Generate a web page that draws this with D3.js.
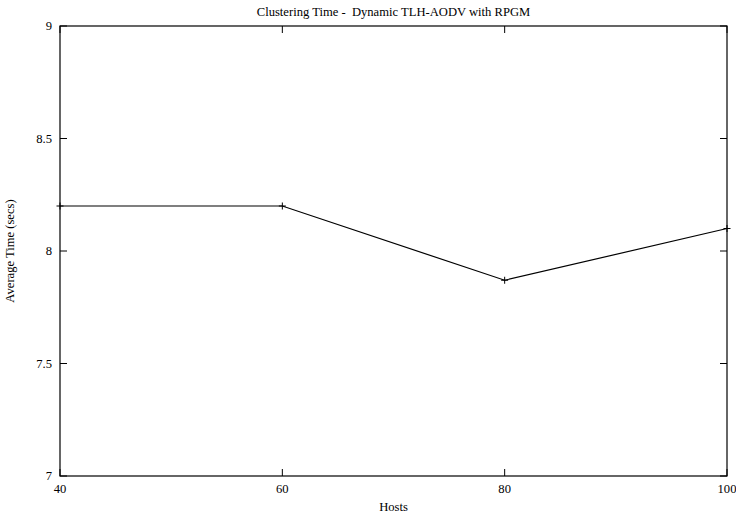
<!DOCTYPE html>
<html>
<head>
<meta charset="utf-8">
<script src="https://cdn.jsdelivr.net/npm/d3@7"></script>
<style>
    body { margin: 0; background: #fff; }
    text { font-family: "Liberation Serif", "Times New Roman", serif; font-size: 12.6px; fill: #000; white-space: pre; }
</style>
</head>
<body>
<div id="chart"></div>
<script>
var chartTitle = "Clustering Time -  Dynamic TLH-AODV with RPGM";
var xLabel = "Hosts";
var yLabel = "Average Time (secs)";
var hosts = [40, 60, 80, 100];
var avgTime = [8.2, 8.2, 7.87, 8.1];
var xTicks = [40, 60, 80, 100];
var yTicks = [7, 7.5, 8, 8.5, 9];

var width = 736, height = 517;
var margin = { top: 26, right: 9, bottom: 41, left: 60 };

var svg = d3.select("#chart").append("svg")
    .attr("width", width)
    .attr("height", height);

var x = d3.scaleLinear().domain([40, 100]).range([margin.left, width - margin.right]);
var y = d3.scaleLinear().domain([7, 9]).range([height - margin.bottom, margin.top]);

var tickLen = 7;

// frame
svg.append("rect")
    .attr("x", x(40)).attr("y", y(9))
    .attr("width", x(100) - x(40)).attr("height", y(7) - y(9))
    .attr("fill", "none").attr("stroke", "#000").attr("stroke-width", 1.2);

// y ticks, inward on both sides
yTicks.forEach(function(t) {
    svg.append("line").attr("x1", x(40)).attr("x2", x(40) + tickLen)
        .attr("y1", y(t)).attr("y2", y(t)).attr("stroke", "#000");
    svg.append("line").attr("x1", x(100)).attr("x2", x(100) - tickLen)
        .attr("y1", y(t)).attr("y2", y(t)).attr("stroke", "#000");
    svg.append("text").attr("x", x(40) - 8).attr("y", y(t) + 4)
        .attr("text-anchor", "end").text(t);
});

// x ticks
xTicks.forEach(function(t) {
    svg.append("line").attr("x1", x(t)).attr("x2", x(t))
        .attr("y1", y(7)).attr("y2", y(7) - tickLen).attr("stroke", "#000");
    svg.append("line").attr("x1", x(t)).attr("x2", x(t))
        .attr("y1", y(9)).attr("y2", y(9) + tickLen).attr("stroke", "#000");
    svg.append("text").attr("x", x(t)).attr("y", y(7) + 17)
        .attr("text-anchor", "middle").text(t);
});

// labels
svg.append("text").attr("x", (x(40) + x(100)) / 2).attr("y", 16)
    .attr("text-anchor", "middle").text(chartTitle);
svg.append("text").attr("x", (x(40) + x(100)) / 2).attr("y", 511)
    .attr("text-anchor", "middle").text(xLabel);
svg.append("text")
    .attr("transform", "translate(14," + ((y(7) + y(9)) / 2) + ") rotate(-90)")
    .attr("text-anchor", "middle").text(yLabel);

// line
var data = hosts.map(function(h, i) { return { h: h, v: avgTime[i] }; });
var line = d3.line().x(function(d) { return x(d.h); }).y(function(d) { return y(d.v); });

svg.append("path").datum(data)
    .attr("d", line)
    .attr("fill", "none").attr("stroke", "#000").attr("stroke-width", 1.2);

// + markers
var m = 3.5;
svg.selectAll(".pt").data(data).enter().append("path")
    .attr("class", "pt")
    .attr("d", function(d) {
        var cx = x(d.h), cy = y(d.v);
        return "M" + (cx - m) + "," + cy + "H" + (cx + m) + "M" + cx + "," + (cy - m) + "V" + (cy + m);
    })
    .attr("stroke", "#000").attr("stroke-width", 1);
</script>
</body>
</html>
